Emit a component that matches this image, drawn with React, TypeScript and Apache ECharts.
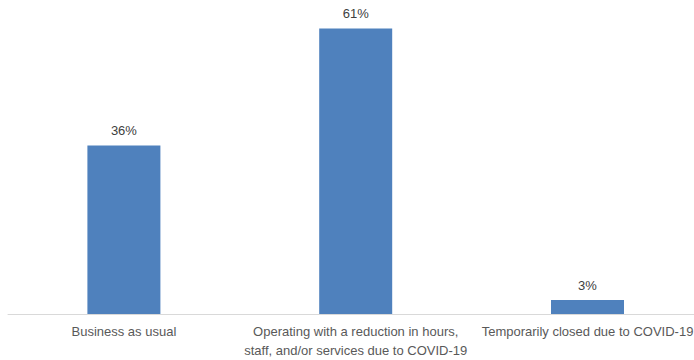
import React, { useEffect, useRef } from "react";
import * as echarts from "echarts";

const categories = [
  "Business as usual",
  "Operating with a reduction in hours,\nstaff, and/or services due to COVID-19",
  "Temporarily closed due to COVID-19",
];
const values = [36, 61, 3];

export default function App() {
  const ref = useRef<HTMLDivElement>(null);
  useEffect(() => {
    const chart = echarts.init(ref.current!, null, { renderer: "svg" });
    chart.setOption({
      animation: false,
      grid: { left: 8, top: 5, width: 695.4, height: 309 },
      xAxis: {
        type: "category",
        data: categories,
        axisLine: { lineStyle: { color: "#d9d9d9", width: 1 } },
        axisTick: { show: false },
        axisLabel: {
          interval: 0,
          color: "#595959",
          fontFamily: "Liberation Sans",
          fontSize: 13,
          lineHeight: 19,
          margin: 8,
        },
      },
      yAxis: {
        type: "value",
        min: 0,
        max: 66,
        show: false,
        splitLine: { show: false },
      },
      series: [
        {
          type: "bar",
          data: values,
          barWidth: 73,
          itemStyle: { color: "#4f81bd" },
          label: {
            show: true,
            position: "top",
            distance: 8,
            formatter: "{c}%",
            color: "#404040",
            fontFamily: "Liberation Sans",
            fontSize: 13,
          },
        },
      ],
    });
    return () => chart.dispose();
  }, []);
  return (
    <div style={{ position: "fixed", left: 0, top: 0, width: 694, height: 360, overflow: "hidden", background: "#fff" }}>
      <div ref={ref} style={{ width: 710, height: 360 }} />
    </div>
  );
}
